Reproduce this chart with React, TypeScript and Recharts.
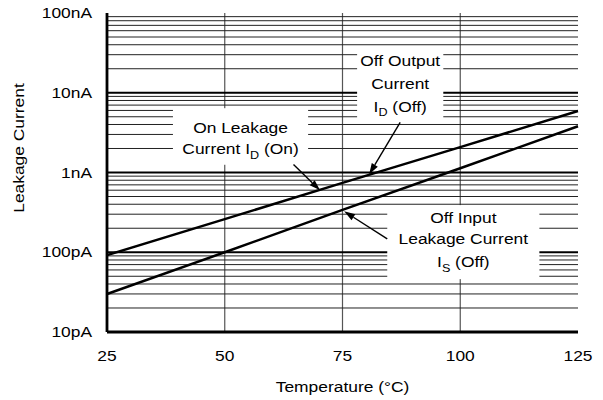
import React from 'react';
import { LineChart, Line, XAxis, YAxis, ReferenceLine, ReferenceArea } from 'recharts';

const temperatures = [25, 50, 75, 100, 125];
const onLeakageCurrent = [9.2e-11, 2.6e-10, 7.4e-10, 2.08e-9, 5.9e-9];
const offInputCurrent = [3.0e-11, 1.0e-10, 3.4e-10, 1.13e-9, 3.8e-9];

const xTicks = [25, 50, 75, 100, 125];
const xGridValues = [50, 75, 100];
const yTicks = [1e-11, 1e-10, 1e-9, 1e-8, 1e-7];
const yTickLabels = ['10pA', '100pA', '1nA', '10nA', '100nA'];
const decadeGrid = [1e-10, 1e-9, 1e-8];
const minorDecades = [1e-11, 1e-10, 1e-9, 1e-8];
const minorMultipliers = [2, 3, 4, 5, 6, 7, 8, 9];

const xTitle = 'Temperature (°C)';
const yTitle = 'Leakage Current';

const annotationTexts = [
  ['On Leakage', 'Current I_{D} (On)'],
  ['Off Output', 'Current', 'I_{D} (Off)'],
  ['Off Input', 'Leakage Current', 'I_{S} (Off)'],
];
const annotationBoxes = [
  { x1: 39, x2: 67.7, y1: 1.25e-9, y2: 6.4e-9, offsets: [25, 46] },
  { x1: 78.1, x2: 96.4, y1: 4.6e-9, y2: 3.6e-8, offsets: [18, 40.5, 63.5] },
  { x1: 84.5, x2: 116.8, y1: 4.6e-11, y2: 3.9e-10, offsets: [17.7, 39.2, 62] },
];
const annotationArrows = [
  { from: [64.6, 1.256e-9], to: [70.25, 5.98e-10] },
  { from: [87.25, 4.26e-9], to: [80.66, 9.49e-10] },
  { from: [84.5, 1.475e-10], to: [75.35, 3.26e-10] },
];

const data = temperatures.map((t, i) => ({ t, on: onLeakageCurrent[i], off: offInputCurrent[i] }));
const minorGrid = minorDecades.flatMap((d) => minorMultipliers.map((m) => m * d));

const FONT = '"Liberation Sans", Arial, Helvetica, sans-serif';
const FS = 14.5;
const STRETCH = 1.2;
const FRAME = { stroke: '#000', strokeWidth: 2.8 };

function rich(s: string) {
  const m = s.match(/^(.*)_\{(.*?)\}(.*)$/);
  if (!m) return s;
  return [
    <tspan key="a">{m[1]}</tspan>,
    <tspan key="b" fontSize={10.5} dy={4.5}>{m[2]}</tspan>,
    <tspan key="c" dy={-4.5}>{m[3]}</tspan>,
  ];
}

function SText({ x, y, anchor, children, rotate }: any) {
  const tr = `translate(${x},${y})` + (rotate ? ` rotate(${rotate})` : '');
  return (
    <g transform={tr}>
      <text transform={`scale(${STRETCH},1)`} textAnchor={anchor} fontSize={FS} fontFamily={FONT} fill="#000">
        {children}
      </text>
    </g>
  );
}

const YTick = (props: any) => {
  const { x, y, payload } = props;
  const idx = yTicks.findIndex((v) => Math.abs(Math.log10(v) - Math.log10(payload.value)) < 1e-6);
  return (
    <SText x={x} y={y + 5} anchor="end">
      {idx >= 0 ? yTickLabels[idx] : ''}
    </SText>
  );
};

const XTick = (props: any) => {
  const { x, y, payload } = props;
  return (
    <SText x={x} y={y + 21} anchor="middle">
      {String(payload.value)}
    </SText>
  );
};

const boxShape = (lines: string[], offsets: number[]) => (p: any) => {
  const { x, y, width, height } = p;
  const cx = x + width / 2;
  return (
    <g>
      <rect x={x} y={y} width={width} height={height} fill="#fff" stroke="none" />
      {lines.map((l, i) => (
        <SText key={i} x={cx} y={y + offsets[i]} anchor="middle">
          {rich(l)}
        </SText>
      ))}
    </g>
  );
};

const arrowShape = (p: any) => {
  const { x1, y1, x2, y2 } = p;
  const dx = x2 - x1;
  const dy = y2 - y1;
  const len = Math.sqrt(dx * dx + dy * dy) || 1;
  const ux = dx / len;
  const uy = dy / len;
  const hl = 11;
  const hw = 3.5;
  const bx = x2 - ux * hl;
  const by = y2 - uy * hl;
  const pts = `${x2},${y2} ${bx - uy * hw},${by + ux * hw} ${bx + uy * hw},${by - ux * hw}`;
  return (
    <g>
      <line x1={x1} y1={y1} x2={bx} y2={by} stroke="#000" strokeWidth={1.4} />
      <polygon points={pts} fill="#000" />
    </g>
  );
};

export default function App() {
  return (
    <div style={{ position: 'absolute', left: 0, top: 0, background: '#fff' }}>
      <LineChart width={603} height={400} data={data} margin={{ top: 13, right: 25, bottom: 0, left: 0 }}>
        <XAxis
          type="number"
          dataKey="t"
          domain={[25, 125]}
          ticks={xTicks}
          height={68}
          axisLine={FRAME}
          tickLine={false}
          tick={XTick}
          interval={0}
          label={{
            content: (p: any) => {
              const vb = p.viewBox;
              return (
                <SText x={vb.x + vb.width / 2} y={vb.y + 60} anchor="middle">
                  {xTitle}
                </SText>
              );
            },
          }}
        />
        <XAxis
          xAxisId="top"
          orientation="top"
          type="number"
          domain={[25, 125]}
          height={0}
          axisLine={FRAME}
          tickLine={false}
          tick={false}
        />
        <YAxis
          type="number"
          scale="log"
          domain={[1e-11, 1e-7]}
          ticks={yTicks}
          width={107}
          axisLine={FRAME}
          tickLine={false}
          tickSize={6}
          tickMargin={9}
          tick={YTick}
          interval={0}
          allowDataOverflow
          label={{
            content: () => (
              <SText x={24} y={148} anchor="middle" rotate={-90}>
                {yTitle}
              </SText>
            ),
          }}
        />
        <YAxis
          yAxisId="right"
          orientation="right"
          type="number"
          domain={[0, 1]}
          width={0}
          axisLine={FRAME}
          tickLine={false}
          tick={false}
        />
        {xGridValues.map((v) => (
          <ReferenceLine key={'vx' + v} x={v} stroke="#555" strokeWidth={1.2} zIndex={1} />
        ))}
        {minorGrid.map((v) => (
          <ReferenceLine key={'mg' + v} y={v} stroke="#222" strokeWidth={1} zIndex={1} />
        ))}
        {decadeGrid.map((v) => (
          <ReferenceLine key={'dg' + v} y={v} stroke="#000" strokeWidth={2.2} zIndex={1} />
        ))}
        {annotationBoxes.map((b, i) => (
          <ReferenceArea
            key={'box' + i}
            x1={b.x1}
            x2={b.x2}
            y1={b.y1}
            y2={b.y2}
            zIndex={2}
            shape={boxShape(annotationTexts[i], b.offsets)}
          />
        ))}
        <Line dataKey="on" stroke="#000" strokeWidth={2.5} dot={false} isAnimationActive={false} zIndex={3} />
        <Line dataKey="off" stroke="#000" strokeWidth={2.5} dot={false} isAnimationActive={false} zIndex={3} />
        {annotationArrows.map((a, i) => (
          <ReferenceLine
            key={'arr' + i}
            segment={[
              { x: a.from[0], y: a.from[1] },
              { x: a.to[0], y: a.to[1] },
            ]}
            shape={arrowShape}
            zIndex={3}
          />
        ))}
      </LineChart>
    </div>
  );
}
